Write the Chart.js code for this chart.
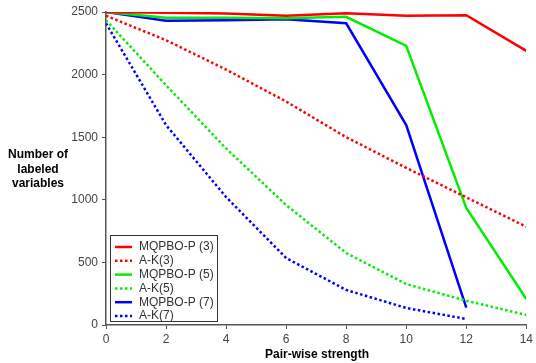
<!DOCTYPE html>
<html>
<head>
<meta charset="utf-8">
<script src="https://cdn.jsdelivr.net/npm/chart.js@4.4.0/dist/chart.umd.min.js"></script>
<style>
  html, body { margin: 0; padding: 0; background: #fff; }
  #wrap { position: relative; width: 536px; height: 363px; }
</style>
</head>
<body>
<div id="wrap"><canvas id="labelChart" width="536" height="363"></canvas></div>
<script>
// x values: pair-wise strength
const strengths = [0, 2, 4, 6, 8, 10, 12, 14];

// series values
const mqpbo3 = [2500, 2495, 2488, 2470, 2490, 2470, 2475, 2190];
const ak3 = [2470, 2275, 2040, 1785, 1500, 1255, 1020, 785];
const mqpbo5 = [2500, 2455, 2455, 2450, 2462, 2230, 935, 208];
const ak5 = [2435, 1915, 1410, 958, 575, 327, 194, 80];
const mqpbo7 = [2500, 2430, 2435, 2442, 2410, 1597, 138];
const ak7 = [2410, 1597, 1022, 535, 280, 136, 48];

const seriesNames = ['MQPBO-P (3)', 'A-K(3)', 'MQPBO-P (5)', 'A-K(5)', 'MQPBO-P (7)', 'A-K(7)'];
const xTicks = [0, 2, 4, 6, 8, 10, 12, 14];
const yTicks = [0, 500, 1000, 1500, 2000, 2500];

const DOT = [2.5, 2.5];

function toPoints(vals) {
  return vals.map((v, i) => ({ x: strengths[i], y: v }));
}

function makeSet(label, vals, color, dotted) {
  return {
    label: label,
    data: toPoints(vals),
    borderColor: color,
    backgroundColor: color,
    borderWidth: 2.5,
    borderDash: dotted ? DOT : [],
    pointRadius: 0,
    tension: 0,
    fill: false
  };
}

// legend box and axis titles drawn onto the canvas
const extras = {
  id: 'extras',
  afterDraw(chart) {
    const c = chart.ctx;
    c.save();

    // axis titles
    c.fillStyle = '#000';
    c.font = 'bold 12px Arial, "Liberation Sans", sans-serif';
    c.textAlign = 'center';
    c.textBaseline = 'middle';
    c.fillText('Number of', 38, 155);
    c.fillText('labeled', 38, 170);
    c.fillText('variables', 38, 184);
    c.fillText('Pair-wise strength', 317, 355);

    // legend
    const bx = 110.5, by = 235.5, bw = 107, bh = 86;
    c.fillStyle = '#fff';
    c.fillRect(bx, by, bw, bh);
    c.strokeStyle = '#333';
    c.lineWidth = 1;
    c.strokeRect(bx, by, bw, bh);

    c.font = '12px Arial, "Liberation Sans", sans-serif';
    c.textAlign = 'left';
    chart.data.datasets.forEach((ds, i) => {
      const y = 247 + i * 13.8;
      c.strokeStyle = ds.borderColor;
      c.lineWidth = 2.5;
      c.setLineDash(ds.borderDash);
      c.beginPath();
      c.moveTo(115, y);
      c.lineTo(132, y);
      c.stroke();
      c.setLineDash([]);
      c.fillStyle = '#333';
      c.fillText(ds.label, 139, y);
    });
    c.restore();
  }
};

new Chart(document.getElementById('labelChart'), {
  type: 'line',
  data: {
    datasets: [
      makeSet(seriesNames[0], mqpbo3, '#ff0000', false),
      makeSet(seriesNames[1], ak3, '#ff0000', true),
      makeSet(seriesNames[2], mqpbo5, '#00ee00', false),
      makeSet(seriesNames[3], ak5, '#00ee00', true),
      makeSet(seriesNames[4], mqpbo7, '#0000ff', false),
      makeSet(seriesNames[5], ak7, '#0000ff', true)
    ]
  },
  options: {
    responsive: false,
    animation: false,
    layout: { padding: { left: 0, right: 8, top: 12, bottom: 0 } },
    plugins: {
      legend: { display: false },
      tooltip: { enabled: false }
    },
    scales: {
      x: {
        type: 'linear',
        min: 0,
        max: 14,
        afterBuildTicks: (s) => { s.ticks = xTicks.map(v => ({ value: v })); },
        afterFit: (s) => { s.height = 38; },
        grid: { drawOnChartArea: false, tickLength: 4, color: '#555' },
        border: { color: '#555', width: 1.5 },
        ticks: {
          color: '#444', font: { family: 'Arial', size: 12 }, padding: 3, maxRotation: 0,
          callback: (v) => String(v)
        }
      },
      y: {
        min: 0,
        max: 2500,
        afterBuildTicks: (s) => { s.ticks = yTicks.map(v => ({ value: v })); },
        afterFit: (s) => { s.width = 106; },
        grid: { drawOnChartArea: false, tickLength: 4, color: '#555' },
        border: { color: '#555', width: 1.5 },
        ticks: {
          color: '#444', font: { family: 'Arial', size: 12 }, padding: 4,
          callback: (v) => String(v)
        }
      }
    }
  },
  plugins: [extras]
});
</script>
</body>
</html>
